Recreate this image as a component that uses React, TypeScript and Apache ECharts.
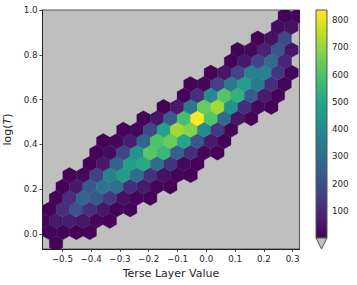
import React, { useEffect, useRef } from "react";
import * as echarts from "echarts";

const xTicks = [-0.5, -0.4, -0.3, -0.2, -0.1, 0, 0.1, 0.2, 0.3];
const yTicks = [0, 0.2, 0.4, 0.6, 0.8, 1.0];
const cbTicks = [100, 200, 300, 400, 500, 600, 700, 800];
const HEX_W = 0.04674;
const ROW_H = 0.05096;
const rowY = [-0.044, 0.007, 0.058, 0.109, 0.16, 0.211, 0.262, 0.313, 0.363, 0.414, 0.465, 0.516, 0.567, 0.618, 0.669, 0.72, 0.771, 0.822, 0.873, 0.924, 0.975];
const rowStartX = [-0.522, -0.545, -0.569, -0.545, -0.522, -0.499, -0.475, -0.405, -0.382, -0.358, -0.288, -0.218, -0.148, -0.078, -0.055, 0.016, 0.086, 0.109, 0.179, 0.249, 0.273];
const rowCounts = [
  [10],
  [10, 5, 5, 5],
  [15, 60, 70, 50, 15, 5],
  [10, 110, 210, 110, 50, 5, 5],
  [10, 110, 270, 230, 140, 40, 10, 5],
  [5, 60, 240, 330, 310, 110, 60, 10, 5],
  [5, 20, 160, 370, 460, 300, 120, 40, 10, 5],
  [5, 60, 260, 470, 510, 300, 120, 20, 5],
  [10, 30, 170, 430, 620, 560, 260, 110, 15, 5],
  [5, 20, 70, 270, 600, 640, 500, 220, 60, 5],
  [5, 20, 180, 480, 720, 680, 400, 140, 10],
  [5, 50, 240, 590, 840, 610, 290, 50, 5],
  [5, 60, 340, 640, 720, 430, 110, 20, 5],
  [10, 110, 400, 610, 540, 240, 60, 5],
  [5, 20, 160, 340, 470, 340, 110, 10],
  [5, 50, 170, 370, 370, 130, 10],
  [5, 60, 170, 290, 90],
  [5, 20, 80, 220, 50],
  [5, 40, 180],
  [30, 40],
  [5, 10],
];
const viridis = ["#440154", "#482475", "#414487", "#355f8d", "#2a788e", "#21918c", "#22a884", "#44bf70", "#7ad151", "#bddf26", "#fde725"];
const CB_MIN = 1;
const CB_MAX = 837;

const hexData: number[][] = [];
rowCounts.forEach((counts, r) => {
  counts.forEach((v, i) => hexData.push([rowStartX[r] + i * HEX_W, rowY[r], v]));
});

const TEXT = "#262626";
const FONT = "DejaVu Sans";

export default function App() {
  const ref = useRef<HTMLDivElement>(null);
  useEffect(() => {
    const chart = echarts.init(ref.current!, undefined, { renderer: "svg" });
    const fmt = (v: number) => v.toFixed(1).replace("-", "\u2212");
    chart.setOption({
      animation: false,
      backgroundColor: "#fff",
      textStyle: { fontFamily: FONT },
      grid: [
        { left: 42.5, top: 10, width: 257, height: 239, show: true, backgroundColor: "#bfbfbf", borderColor: "#555", borderWidth: 1, containLabel: false, outerBoundsMode: "none" },
        { left: 316, top: 10, width: 11, height: 228, show: false, containLabel: false, outerBoundsMode: "none" },
      ],
      xAxis: [
        {
          type: "value", gridIndex: 0, min: -0.569, max: 0.324, splitLine: { show: false },
          name: "Terse Layer Value", nameLocation: "middle", nameGap: 19,
          nameTextStyle: { fontSize: 11, color: TEXT, fontFamily: FONT },
          axisLine: { show: true, onZero: false, lineStyle: { color: "#222", width: 1 } },
          axisTick: { show: true, length: 3, customValues: xTicks, lineStyle: { color: "#222", width: 0.8 } },
          axisLabel: { customValues: xTicks, formatter: fmt, fontSize: 8.7, color: TEXT, margin: 5, fontFamily: FONT, hideOverlap: false },
        },
        { type: "value", gridIndex: 1, min: 0, max: 1, show: false },
      ],
      yAxis: [
        {
          type: "value", gridIndex: 0, min: -0.068, max: 1, splitLine: { show: false },
          name: "{n|log(}{i|T}{n|)}", nameLocation: "middle", nameGap: 25, nameRotate: 90,
          nameTextStyle: {
            rich: {
              n: { fontSize: 11, color: TEXT, fontFamily: FONT },
              i: { fontSize: 11, color: TEXT, fontFamily: FONT, fontStyle: "italic" },
            },
          },
          axisLine: { show: true, onZero: false, lineStyle: { color: "#222", width: 1 } },
          axisTick: { show: true, length: 3, customValues: yTicks, lineStyle: { color: "#222", width: 0.8 } },
          axisLabel: { customValues: yTicks, formatter: fmt, fontSize: 8.7, color: TEXT, margin: 5, fontFamily: FONT, hideOverlap: false },
        },
        {
          type: "value", gridIndex: 1, position: "right", min: CB_MIN, max: CB_MAX, splitLine: { show: false },
          axisLine: { show: false },
          axisTick: { show: true, length: 3, customValues: cbTicks, lineStyle: { color: "#222", width: 0.8 } },
          axisLabel: { customValues: cbTicks, fontSize: 8.7, color: TEXT, margin: 5, fontFamily: FONT, hideOverlap: false },
        },
      ],
      visualMap: { show: false, type: "continuous", seriesIndex: 0, dimension: 2, min: CB_MIN, max: CB_MAX, inRange: { color: viridis } },
      series: [
        {
          type: "custom", xAxisIndex: 0, yAxisIndex: 0, clip: true, data: hexData,
          encode: { x: 0, y: 1 },
          renderItem: (params: any, api: any) => {
            const [cx, cy] = api.coord([api.value(0), api.value(1)]);
            const size = api.size([HEX_W, ROW_H]);
            const hw = size[0] / 2;
            const s = size[1] / 1.5;
            const color = api.visual("color");
            return {
              type: "polygon",
              shape: { points: [[cx, cy - s], [cx + hw, cy - s / 2], [cx + hw, cy + s / 2], [cx, cy + s], [cx - hw, cy + s / 2], [cx - hw, cy - s / 2]] },
              style: { fill: color, stroke: color, lineWidth: 0.3 },
            };
          },
        },
        {
          type: "custom", xAxisIndex: 1, yAxisIndex: 1, clip: false, silent: true, data: [[0, CB_MIN, 1, CB_MAX]],
          encode: { x: 0, y: 1 },
          renderItem: (params: any, api: any) => {
            const a = api.coord([api.value(0), api.value(1)]);
            const b = api.coord([api.value(2), api.value(3)]);
            const n = viridis.length - 1;
            const stops = viridis.map((_, i) => ({ offset: i / n, color: viridis[n - i] }));
            const w = b[0] - a[0];
            return {
              type: "group",
              children: [
                {
                  type: "rect",
                  shape: { x: a[0], y: b[1], width: w, height: a[1] - b[1] },
                  style: { fill: new echarts.graphic.LinearGradient(0, 0, 0, 1, stops), stroke: "#555", lineWidth: 1 },
                },
                {
                  type: "polygon",
                  shape: { points: [[a[0], a[1]], [b[0], a[1]], [a[0] + w / 2, a[1] + w]] },
                  style: { fill: "#bfbfbf", stroke: "#555", lineWidth: 1 },
                },
              ],
            };
          },
        },
      ],
    });
    return () => chart.dispose();
  }, []);
  return <div ref={ref} style={{ position: "fixed", left: 0, top: 0, width: 357, height: 285 }} />;
}
